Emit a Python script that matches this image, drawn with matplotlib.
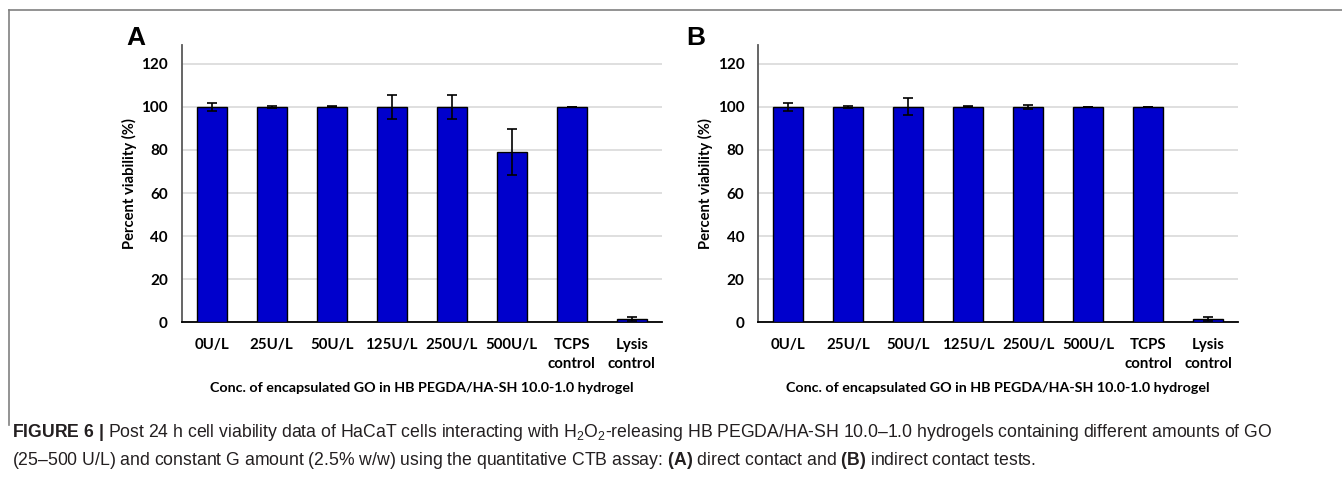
import matplotlib
matplotlib.use("Agg")
import matplotlib.pyplot as plt
from matplotlib.lines import Line2D
import numpy as np

categories = ["0U/L", "25U/L", "50U/L", "125U/L", "250U/L", "500U/L", "TCPS\ncontrol", "Lysis\ncontrol"]
values_a = [100, 100, 100, 100, 100, 79, 100, 1.5]
errors_a = [2, 0.5, 0.3, 5.5, 5.5, 10.8, 0, 1.0]
values_b = [100, 100, 100, 100, 100, 100, 100, 1.5]
errors_b = [2, 0.5, 4, 0.3, 1, 0, 0, 1.0]
yticks = [0, 20, 40, 60, 80, 100, 120]
xlabel = "Conc. of encapsulated GO in HB PEGDA/HA-SH 10.0-1.0 hydrogel"
ylabel = "Percent viability (%)"

W, H = 1342, 490
fig = plt.figure(figsize=(W / 100, H / 100), dpi=100)

cap_font = 'Liberation Sans'
plt.rcParams['mathtext.fontset'] = 'custom'
plt.rcParams['mathtext.rm'] = cap_font
plt.rcParams['mathtext.it'] = cap_font + ':italic'
plt.rcParams['mathtext.bf'] = cap_font + ':bold'

chart_font = 'Lato'

def panel(left_px, vals, errs, letter, letter_x):
    ax = fig.add_axes([left_px / W, 1 - 322.3 / H, 480 / W, (322.3 - 45) / H])
    x = np.arange(len(categories))
    ax.bar(x, vals, width=0.5, color='#0000CC', edgecolor='black', linewidth=1.0, zorder=3)
    ax.errorbar(x, vals, yerr=errs, fmt='none', ecolor='black', elinewidth=1.2,
                capsize=3.5, capthick=1.2, zorder=4)
    ax.set_xlim(-0.5, len(categories) - 0.5)
    ax.set_ylim(0, 128.7)
    ax.set_yticks(yticks)
    ax.set_xticks(x)
    ax.set_xticklabels(categories, fontfamily=chart_font, fontweight='bold', fontsize=10.8,
                       va='top', linespacing=1.5)
    for t in ax.get_yticklabels():
        t.set_fontfamily(chart_font)
        t.set_fontweight('bold')
        t.set_fontsize(11)
    ax.tick_params(axis='both', length=0)
    ax.tick_params(axis='y', pad=10)
    ax.tick_params(axis='x', pad=11)
    ax.grid(axis='y', color='#d9d9d9', linewidth=1.2, zorder=0)
    ax.set_axisbelow(True)
    for s in ['top', 'right']:
        ax.spines[s].set_visible(False)
    ax.spines['left'].set_color('#595959')
    ax.spines['left'].set_linewidth(1.3)
    ax.spines['bottom'].set_color('black')
    ax.spines['bottom'].set_linewidth(1.3)
    ax.set_xlabel(xlabel, fontfamily=chart_font, fontweight='bold', fontsize=10.3, labelpad=8)
    ax.set_ylabel(ylabel, fontfamily=chart_font, fontweight='bold', fontsize=10.6, labelpad=3)
    fig.text(letter_x / W, 1 - 38 / H, letter, fontfamily='Liberation Sans', fontweight='bold',
             fontsize=19, ha='center', va='center')
    return ax

panel(181.7, values_a, errors_a, "A", 136)
panel(758.3, values_b, errors_b, "B", 696)

# frame
fig.add_artist(Line2D([9 / W, 1.0], [1 - 10 / H, 1 - 10 / H], color='#808080', linewidth=1.2))
fig.add_artist(Line2D([9 / W, 9 / W], [1 - 10 / H, 1 - 425 / H], color='#808080', linewidth=1.2))

line1 = (r"$\mathbf{FIGURE\ 6\ |}$ Post 24 h cell viability data of HaCaT cells interacting with "
         r"H$_2$O$_2$-releasing HB PEGDA/HA-SH 10.0–1.0 hydrogels containing different amounts of GO")
line2 = (r"(25–500 U/L) and constant G amount (2.5% w/w) using the quantitative CTB assay: "
         r"$\mathbf{(A)}$ direct contact and $\mathbf{(B)}$ indirect contact tests.")
fig.text(12 / W, 1 - 432 / H, line1, fontfamily=cap_font, fontsize=12.7,
         ha='left', va='center', color='#231f20')
fig.text(12 / W, 1 - 460 / H, line2, fontfamily=cap_font, fontsize=12.7,
         ha='left', va='center', color='#231f20')

fig.savefig("out.png", dpi=100)
